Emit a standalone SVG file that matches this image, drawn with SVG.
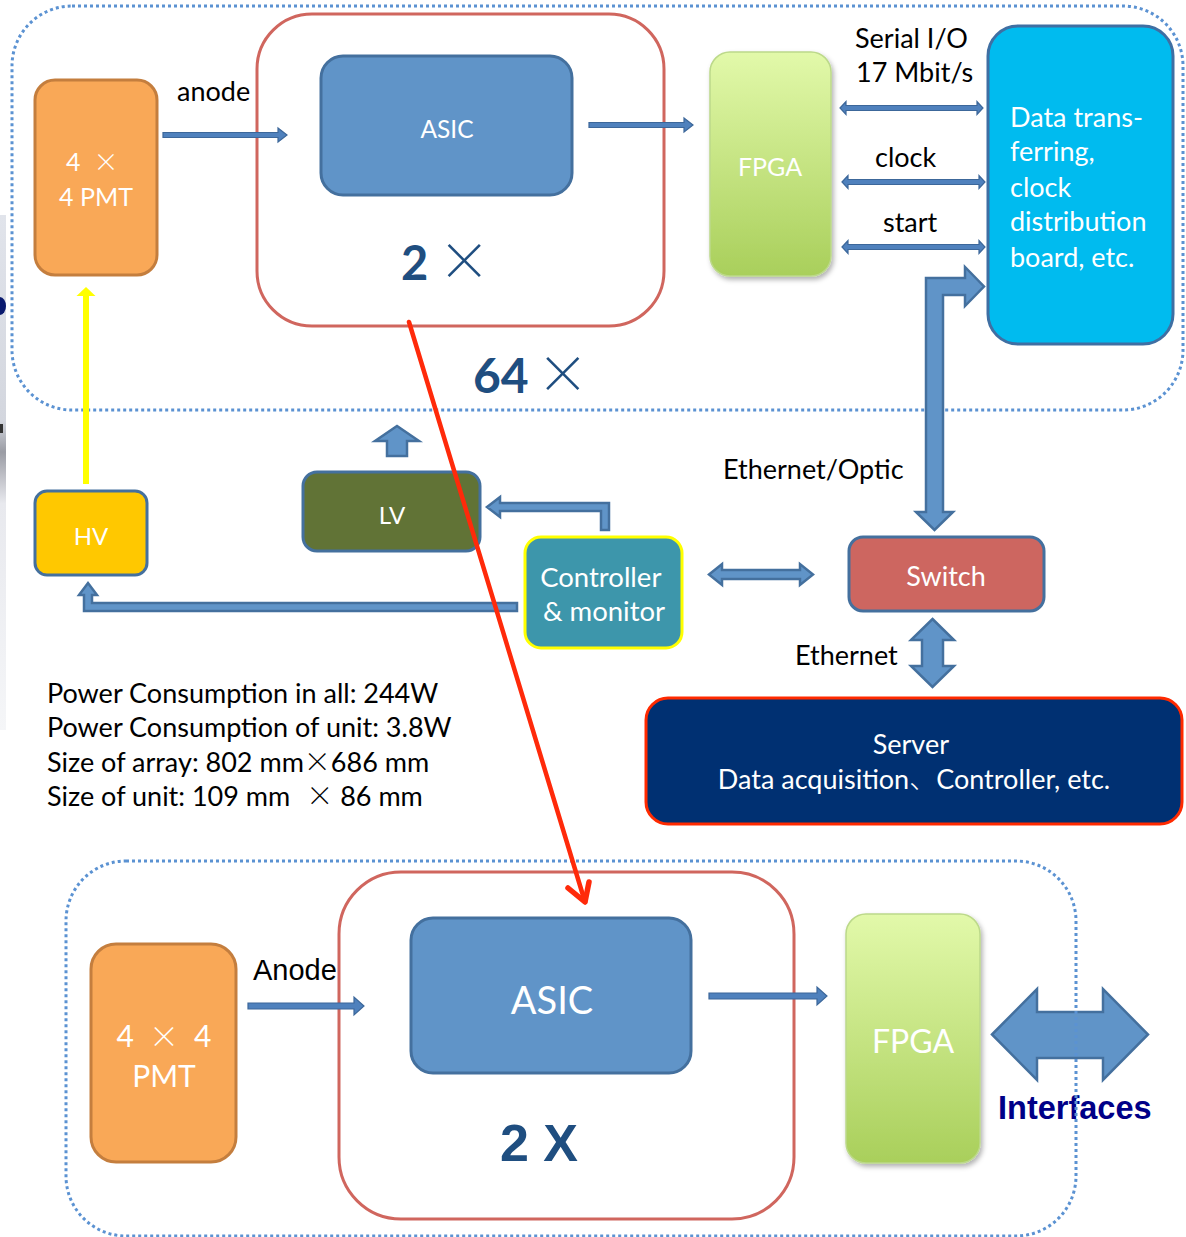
<svg xmlns="http://www.w3.org/2000/svg" width="1186" height="1237" viewBox="0 0 1186 1237">
  <defs>
    <style>
      .lbl { font-family: Lato, "Noto Sans", sans-serif; fill: #000; }
      .wt { font-family: Lato, "Noto Sans", sans-serif; fill: #fff; }
      .ar { font-family: "Liberation Sans", Arial, sans-serif; }
      .frame { fill: none; stroke: #5b92d2; stroke-width: 3; stroke-dasharray: 3 3; }
      .group2 { fill: none; stroke: #d0665e; stroke-width: 3; }
      .pmt { fill: #f9a857; stroke: #c47e3e; stroke-width: 3; }
      .asic { fill: #6094c8; stroke: #44709e; stroke-width: 3; }
      .fpga { fill: url(#fpgaFill); stroke: #bcd98a; stroke-width: 1.5; filter: url(#shadow); }
      .thin { fill: #4f81bd; stroke: #3c679a; stroke-width: 1.2; }
      .thick { fill: #6094c8; stroke: #44709e; stroke-width: 2.5; stroke-linejoin: miter; }
      .mult { fill: #1f4e80; font-family: Lato, "Noto Sans", sans-serif; font-weight: bold; }
      .cross { font-family: "Noto Sans CJK SC", sans-serif; font-weight: 300; }
    </style>
    <linearGradient id="fpgaFill" x1="0" y1="0" x2="0" y2="1">
      <stop offset="0" stop-color="#e2f9aa"/>
      <stop offset="1" stop-color="#a9cf5b"/>
    </linearGradient>
    <linearGradient id="edgeFill" x1="0" y1="0" x2="0" y2="1">
      <stop offset="0" stop-color="#e1e4eb"/>
      <stop offset="0.4" stop-color="#d3d6de"/>
      <stop offset="0.46" stop-color="#9a9ca4"/>
      <stop offset="0.56" stop-color="#e8e9ee"/>
      <stop offset="1" stop-color="#f5f6f8"/>
    </linearGradient>
    <filter id="shadow" x="-20%" y="-10%" width="140%" height="125%">
      <feDropShadow dx="2" dy="3" stdDeviation="2.5" flood-color="#000" flood-opacity="0.3"/>
    </filter>
  </defs>

  <rect width="1186" height="1237" fill="#fff"/>

  <!-- strip at the left edge -->
  <rect x="0" y="215" width="6" height="515" fill="url(#edgeFill)"/>
  <path d="M0,297 A6,9 0 0 1 0,315 Z" fill="#0a1a6e"/>
  <rect x="0" y="424" width="3" height="9" fill="#333"/>

  <!-- top frame: 64 units -->
  <rect class="frame" x="12" y="6" width="1171" height="404" rx="60"/>
  <rect class="group2" x="257" y="14" width="407" height="312" rx="55"/>

  <g id="pmt-top">
    <rect class="pmt" x="35" y="80" width="122" height="195" rx="20"/>
    <text class="wt" font-size="25" x="66" y="171">4<tspan class="cross" dx="13">×</tspan></text>
    <text class="wt" font-size="25" x="96" y="206" text-anchor="middle">4 PMT</text>
  </g>

  <g id="asic-top">
    <rect class="asic" x="321" y="56" width="251" height="139" rx="22"/>
    <text class="wt" font-size="24.5" x="447" y="138" text-anchor="middle">ASIC</text>
  </g>

  <g id="mult-2">
    <text class="mult" font-size="47" x="401" y="280">2<tspan class="cross" dx="10" font-weight="300" font-size="52">×</tspan></text>
  </g>
  <g id="mult-64">
    <text class="mult" font-size="48" x="473" y="393">64<tspan class="cross" dx="8" font-weight="300" font-size="52">×</tspan></text>
  </g>

  <g id="fpga-top">
    <rect class="fpga" x="710" y="52" width="121" height="224" rx="20"/>
    <text class="wt" font-size="25" x="770" y="176" text-anchor="middle">FPGA</text>
  </g>

  <g id="data-board">
    <rect x="988" y="26" width="185" height="318" rx="30" fill="#00bbef" stroke="#3f6fa3" stroke-width="3"/>
    <text class="wt" font-size="27">
      <tspan x="1010" y="127">Data trans-</tspan>
      <tspan x="1010" y="161">ferring,</tspan>
      <tspan x="1010" y="197">clock</tspan>
      <tspan x="1010" y="231">distribution</tspan>
      <tspan x="1010" y="267">board, etc.</tspan>
    </text>
  </g>

  <g id="hv">
    <rect x="35" y="491" width="112" height="84" rx="12" fill="#ffc800" stroke="#44709e" stroke-width="3"/>
    <text class="wt" font-size="24" x="91" y="545" text-anchor="middle">HV</text>
  </g>

  <g id="lv">
    <rect x="303" y="472" width="177" height="79" rx="14" fill="#617336" stroke="#44709e" stroke-width="3"/>
    <text class="wt" font-size="24" x="392" y="524" text-anchor="middle">LV</text>
  </g>

  <g id="controller">
    <rect x="525" y="537" width="157" height="111" rx="16" fill="#3d96ab" stroke="#ffff00" stroke-width="3"/>
    <text class="wt" font-size="27.5" text-anchor="middle">
      <tspan x="604" y="587">Controller</tspan>
      <tspan x="604" y="621">&amp; monitor</tspan>
    </text>
  </g>

  <g id="switch">
    <rect x="849" y="537" width="195" height="74" rx="14" fill="#cd6660" stroke="#44709e" stroke-width="3"/>
    <text class="wt" font-size="27" x="946" y="586" text-anchor="middle">Switch</text>
  </g>

  <g id="server">
    <rect x="646" y="698" width="536" height="126" rx="22" fill="#003072" stroke="#ff2a00" stroke-width="3"/>
    <text class="wt" font-size="27" text-anchor="middle">
      <tspan x="914" y="754">Server</tspan>
      <tspan x="914" y="789">Data acquisition<tspan class="cross">、</tspan>Controller, etc.</tspan>
    </text>
  </g>

  <g id="specs">
    <text class="lbl" font-size="27">
      <tspan x="47" y="703">Power Consumption in all: 244W</tspan>
      <tspan x="47" y="737">Power Consumption of unit: 3.8W</tspan>
      <tspan x="47" y="772">Size of array: 802 mm<tspan class="cross">×</tspan>686 mm</tspan>
      <tspan x="47" y="806">Size of unit: 109 mm<tspan class="cross" dx="16">×</tspan> 86 mm</tspan>
    </text>
  </g>

  <!-- bottom: single unit -->
  <rect class="group2" x="339" y="872" width="455" height="347" rx="62"/>

  <g id="pmt-bottom">
    <rect class="pmt" x="91" y="944" width="145" height="218" rx="25"/>
    <text class="wt" font-size="30" x="164" y="1047" text-anchor="middle">4<tspan class="cross" dx="15">×</tspan><tspan dx="15">4</tspan></text>
    <text class="wt" font-size="30" x="164" y="1087" text-anchor="middle">PMT</text>
  </g>

  <g id="asic-bottom">
    <rect class="asic" x="411" y="918" width="280" height="155" rx="22"/>
    <text class="wt" font-size="38" x="552" y="1014" text-anchor="middle">ASIC</text>
  </g>

  <g id="mult-2x">
    <text class="ar" font-size="52" font-weight="bold" fill="#1f4e80" x="500" y="1161">2 X</text>
  </g>

  <g id="fpga-bottom">
    <rect class="fpga" x="846" y="914" width="134" height="249" rx="20"/>
    <text class="wt" font-size="32" x="913" y="1053" text-anchor="middle">FPGA</text>
  </g>

  <!-- connectors -->
  <g id="connectors">
    <!-- anode / data flow -->
    <path class="thin" d="M163,132.5 H278 V128 L287,135 L278,142 V137.5 H163 Z"/>
    <path class="thin" d="M589,122.5 H684 V118 L693,125 L684,132 V127.5 H589 Z"/>
    <!-- serial I/O, clock, start -->
    <path class="thin" d="M840,108 L846,101.5 V105.5 H977 V101.5 L983,108 L977,114.5 V110.5 H846 V114.5 Z"/>
    <path class="thin" d="M842,182 L848,175.5 V179.5 H979 V175.5 L985,182 L979,188.5 V184.5 H848 V188.5 Z"/>
    <path class="thin" d="M842,247 L848,240.5 V244.5 H979 V240.5 L985,247 L979,253.5 V249.5 H848 V253.5 Z"/>
    <!-- switch to data board -->
    <path class="thick" d="M926,512 V278 H965 V267 L984,286.5 L965,306 V295 H943 V512 H953 L934.5,530 L916,512 Z"/>
    <!-- LV output -->
    <path class="thick" d="M387,456 V441 H375 L397,426 L419,441 H407 V456 Z"/>
    <!-- controller to LV -->
    <path class="thick" d="M601,530 V511 H500 V517 L487,507 L500,497 V503 H609 V530 Z" stroke-width="2"/>
    <!-- controller to HV -->
    <path class="thick" d="M517,603 H92 V595 H97 L88,583 L79,595 H84 V611 H517 Z" stroke-width="2"/>
    <!-- controller to switch -->
    <path class="thick" d="M709,574.5 L722,564 V570 H800 V564 L813,574.5 L800,585 V579 H722 V585 Z" stroke-width="2"/>
    <!-- switch to server -->
    <path class="thick" d="M932.5,619 L954,640 H943 V666 H954 L932.5,687 L911,666 H922 V640 H911 Z"/>
    <!-- HV supply -->
    <line x1="86" y1="484" x2="86" y2="295" stroke="#ffff00" stroke-width="6"/>
    <path d="M86,287 L95.5,296 H76.5 Z" fill="#ffff00"/>
    <!-- bottom unit flow -->
    <path class="thin" d="M248,1003 H354 V997 L364,1006 L354,1015 V1009 H248 Z"/>
    <path class="thin" d="M709,993 H817 V987 L827,996 L817,1005 V999 H709 Z"/>
    <path class="thick" d="M992,1034.5 L1037,989 V1012 H1103 V989 L1148,1034.5 L1103,1080 V1058 H1037 V1080 Z"/>
  </g>

  <g id="labels">
    <text class="lbl" font-size="27" x="177" y="101">anode</text>
    <text class="lbl" font-size="27" x="855" y="48">Serial I/O</text>
    <text class="lbl" font-size="27" x="856" y="82">17 Mbit/s</text>
    <text class="lbl" font-size="27" x="875" y="167">clock</text>
    <text class="lbl" font-size="27" x="883" y="232">start</text>
    <text class="lbl" font-size="27" x="723" y="479">Ethernet/Optic</text>
    <text class="lbl" font-size="27" x="795" y="665">Ethernet</text>
    <text class="ar" font-size="29" x="253" y="980" fill="#000">Anode</text>
    <text class="ar" font-size="32.5" font-weight="bold" x="998" y="1119" fill="#000088">Interfaces</text>
  </g>

  <!-- bottom frame drawn over the interface arrow -->
  <rect class="frame" x="66" y="861" width="1010" height="375" rx="60"/>

  <!-- red pointer from top unit to bottom unit -->
  <g id="pointer" fill="none" stroke="#ff2a0a" stroke-linecap="round" stroke-linejoin="round">
    <line x1="409" y1="322" x2="585" y2="902" stroke-width="4.5"/>
    <polyline points="568,888 585,902 589,882" stroke-width="5.5"/>
  </g>
</svg>
